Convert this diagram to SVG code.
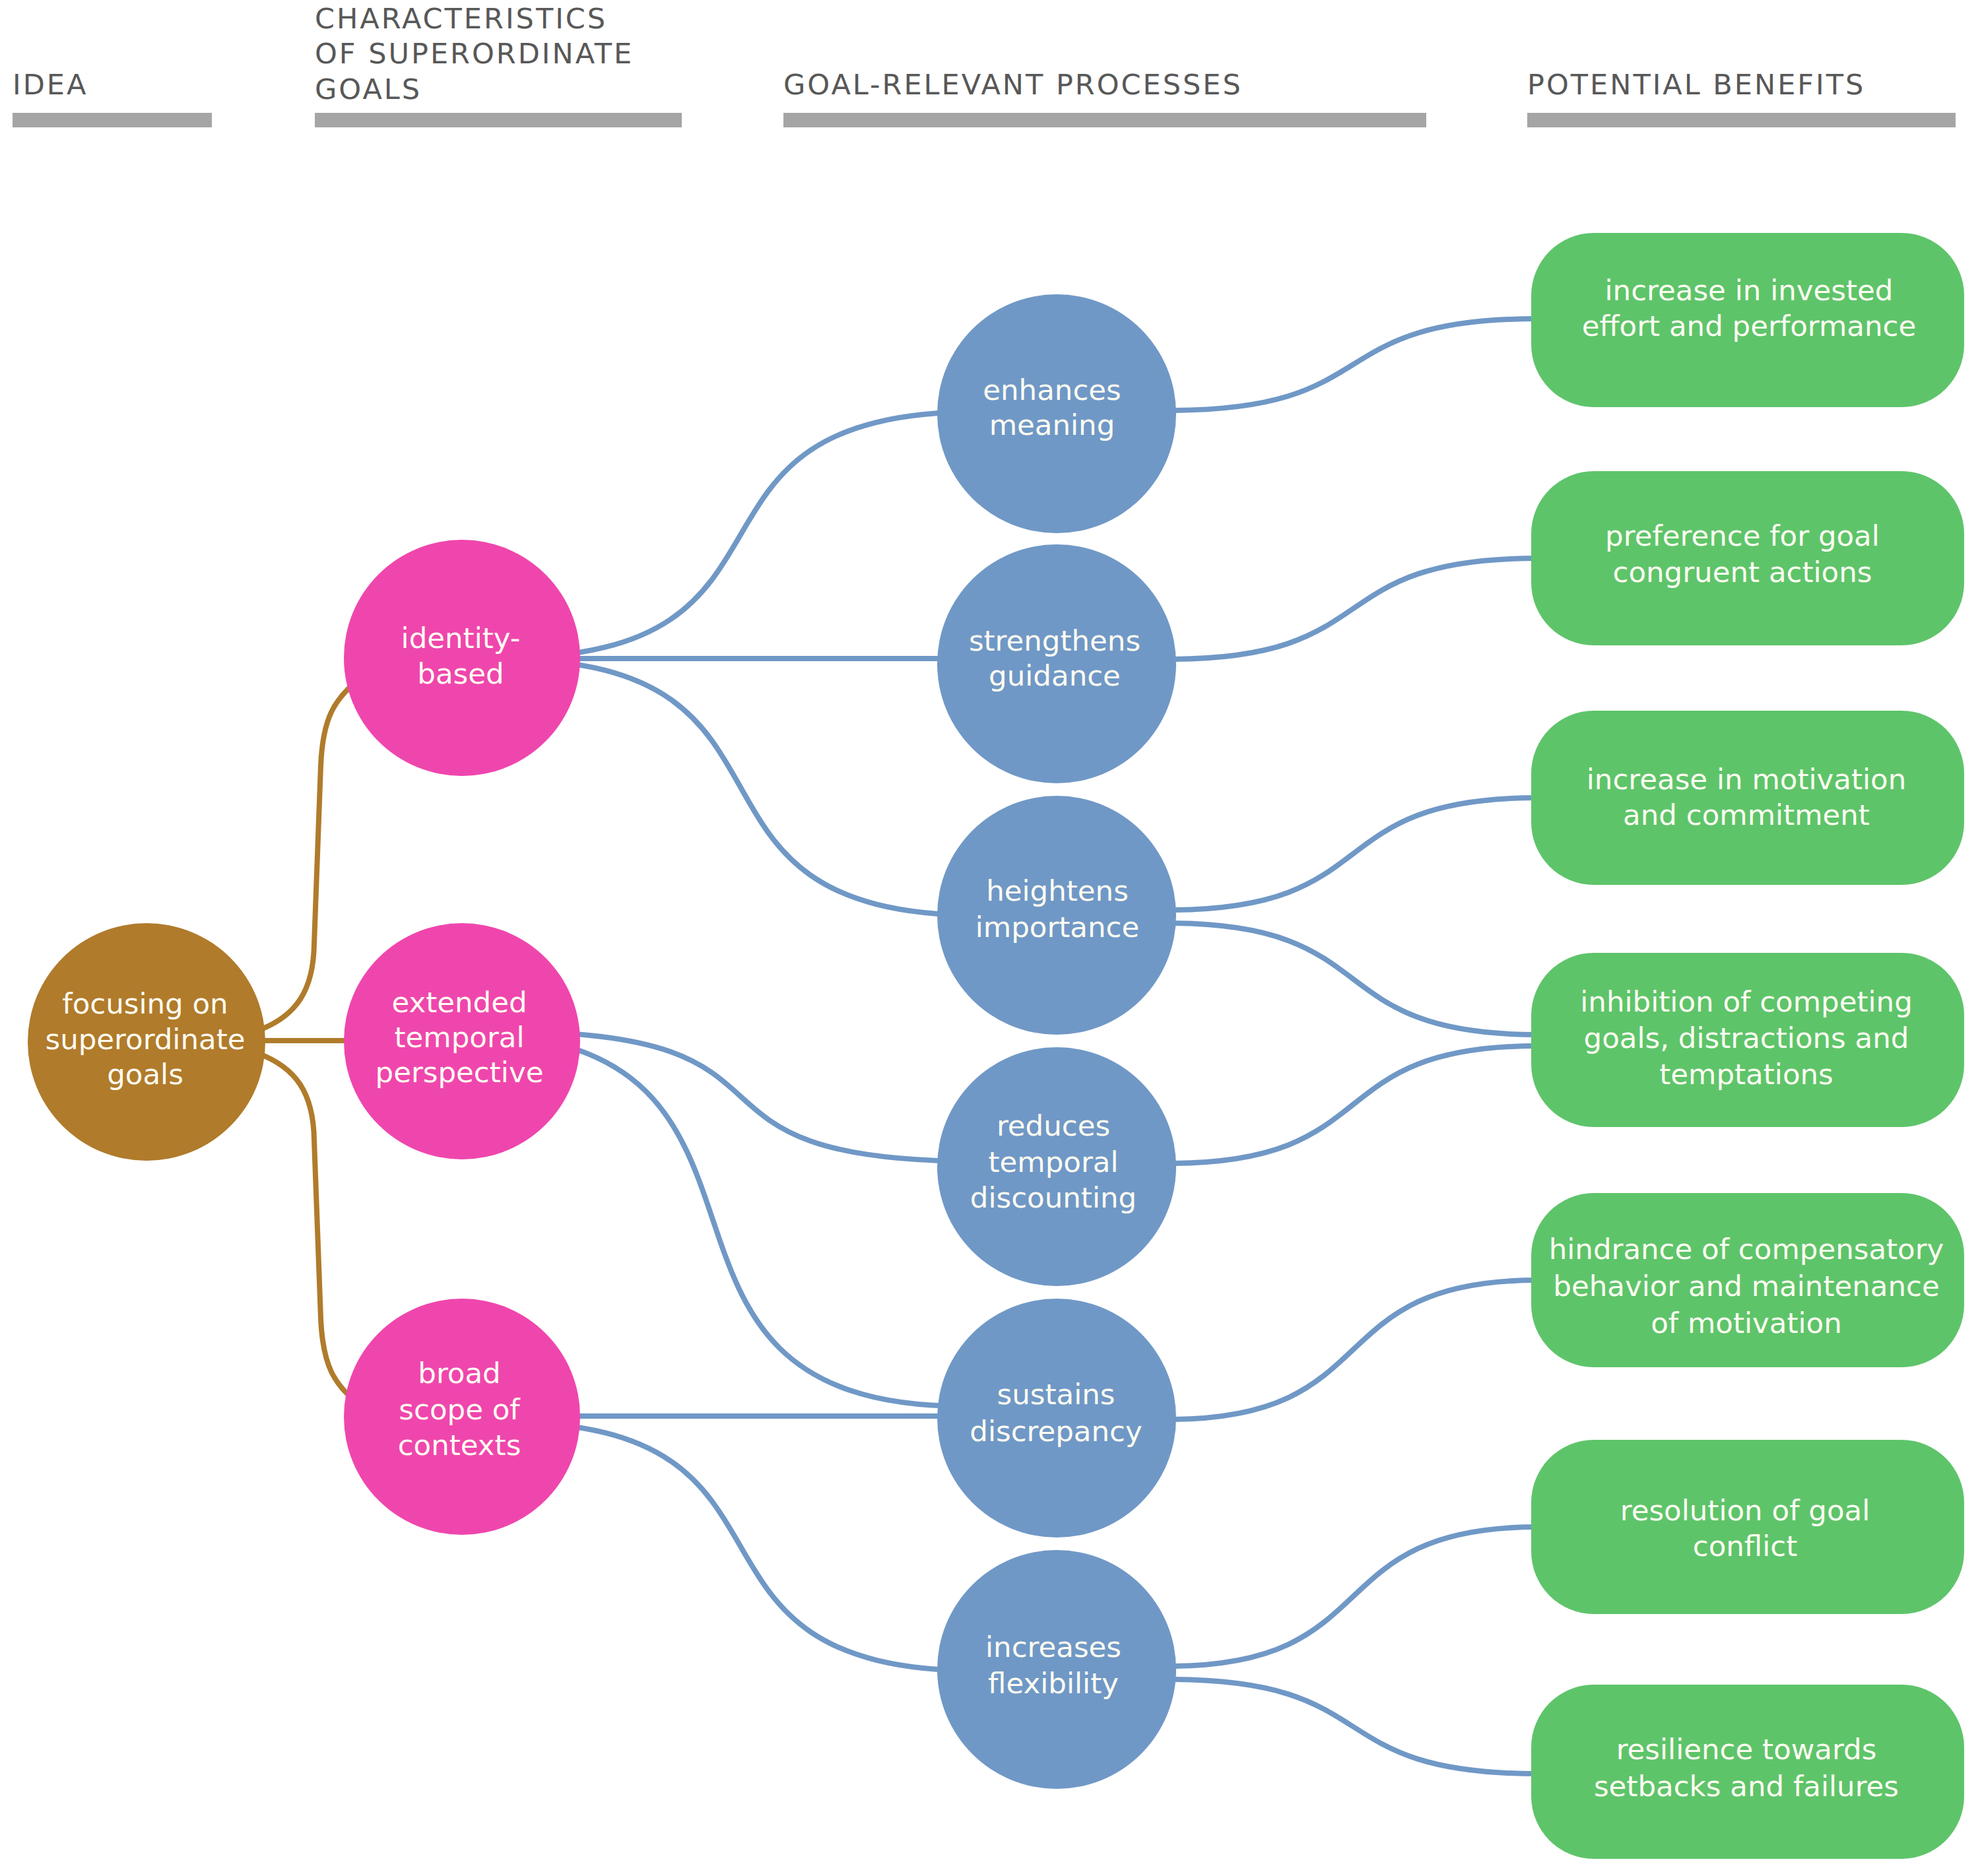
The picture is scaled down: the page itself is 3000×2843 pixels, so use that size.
<svg xmlns="http://www.w3.org/2000/svg" width="3000" height="2843" viewBox="0 0 3000 2843">
<style>
.hdr{font-family:"DejaVu Sans","Liberation Sans",sans-serif;font-size:43px;fill:#585858;letter-spacing:3px}
.bar{fill:#a5a5a5}
.lbl{font-family:"DejaVu Sans","Liberation Sans",sans-serif;font-size:43.5px;fill:#fffdf2;text-anchor:middle}
.cb{fill:none;stroke:#b07b2b;stroke-width:8;stroke-linecap:round}
.cl{fill:none;stroke:#7098c6;stroke-width:8}
.brown{fill:#b07b2b}
.pink{fill:#ef46ad}
.blue{fill:#7098c6}
.green{fill:#5ec46a}
</style>
<rect width="3000" height="2843" fill="#ffffff"/>
<g id="headers">
<text class="hdr" x="19" y="143">IDEA</text>
<rect class="bar" x="19" y="171" width="302" height="22"/>
<text class="hdr" x="477" y="43">CHARACTERISTICS</text>
<text class="hdr" x="477" y="96">OF SUPERORDINATE</text>
<text class="hdr" x="477" y="150">GOALS</text>
<rect class="bar" x="477" y="171" width="556" height="22"/>
<text class="hdr" x="1187" y="143">GOAL-RELEVANT PROCESSES</text>
<rect class="bar" x="1187" y="171" width="974" height="22"/>
<text class="hdr" x="2314" y="143">POTENTIAL BENEFITS</text>
<rect class="bar" x="2314" y="171" width="649" height="22"/>
</g>
<g id="connectors">
<path class="cb" d="M390,1562 C450,1540 475,1500 476,1430 L486,1160 C489,1090 505,1058 550,1025"/>
<path class="cb" d="M390,1577 H540"/>
<path class="cb" d="M390,1596 C450,1618 475,1658 476,1728 L486,1998 C489,2068 505,2100 550,2133"/>
<path class="cl" d="M761,997 C1266,997 978,624 1483,624"/>
<path class="cl" d="M870,998 H1440"/>
<path class="cl" d="M761,999 C1266,999 978,1387 1483,1387"/>
<path class="cl" d="M761,1563 C1266,1563 978,1760 1483,1760"/>
<path class="cl" d="M700,1566 C1270,1566 890,2131 1460,2131"/>
<path class="cl" d="M870,2146 H1440"/>
<path class="cl" d="M761,2155 C1266,2155 978,2532 1483,2532"/>
<path class="cl" d="M1770,622 C2106,622 1994,483 2330,483"/>
<path class="cl" d="M1770,999 C2106,999 1994,846 2330,846"/>
<path class="cl" d="M1770,1379 C2106,1379 1994,1209 2330,1209"/>
<path class="cl" d="M1770,1399 C2106,1399 1994,1568 2330,1568"/>
<path class="cl" d="M1770,1763 C2106,1763 1994,1585 2330,1585"/>
<path class="cl" d="M1770,2151 C2106,2151 1994,1940 2330,1940"/>
<path class="cl" d="M1770,2525 C2106,2525 1994,2314 2330,2314"/>
<path class="cl" d="M1770,2545 C2106,2545 1994,2688 2330,2688"/>
</g>
<g id="idea">
<circle class="brown" cx="222" cy="1579" r="180"/>
<text class="lbl" x="220" y="1536">focusing on</text>
<text class="lbl" x="220" y="1590">superordinate</text>
<text class="lbl" x="220" y="1643">goals</text>
</g>
<g id="identity-based">
<circle class="pink" cx="700" cy="997" r="179"/>
<text class="lbl" x="698" y="982">identity-</text>
<text class="lbl" x="698" y="1036">based</text>
</g>
<g id="extended-temporal-perspective">
<circle class="pink" cx="700" cy="1578" r="179"/>
<text class="lbl" x="696" y="1534">extended</text>
<text class="lbl" x="696" y="1587">temporal</text>
<text class="lbl" x="696" y="1640">perspective</text>
</g>
<g id="broad-scope">
<circle class="pink" cx="700" cy="2147" r="179"/>
<text class="lbl" x="696" y="2096">broad</text>
<text class="lbl" x="696" y="2151">scope of</text>
<text class="lbl" x="696" y="2205">contexts</text>
</g>
<g id="enhances-meaning">
<circle class="blue" cx="1601" cy="627" r="181"/>
<text class="lbl" x="1594" y="606">enhances</text>
<text class="lbl" x="1594" y="659">meaning</text>
</g>
<g id="strengthens-guidance">
<circle class="blue" cx="1601" cy="1006" r="181"/>
<text class="lbl" x="1598" y="986">strengthens</text>
<text class="lbl" x="1598" y="1039">guidance</text>
</g>
<g id="heightens-importance">
<circle class="blue" cx="1601" cy="1387" r="181"/>
<text class="lbl" x="1602" y="1365">heightens</text>
<text class="lbl" x="1602" y="1420">importance</text>
</g>
<g id="reduces-temporal-discounting">
<circle class="blue" cx="1601" cy="1768" r="181"/>
<text class="lbl" x="1596" y="1721">reduces</text>
<text class="lbl" x="1596" y="1776">temporal</text>
<text class="lbl" x="1596" y="1830">discounting</text>
</g>
<g id="sustains-discrepancy">
<circle class="blue" cx="1601" cy="2149" r="181"/>
<text class="lbl" x="1600" y="2128">sustains</text>
<text class="lbl" x="1600" y="2184">discrepancy</text>
</g>
<g id="increases-flexibility">
<circle class="blue" cx="1601" cy="2530" r="181"/>
<text class="lbl" x="1596" y="2511">increases</text>
<text class="lbl" x="1596" y="2566">flexibility</text>
</g>
<g id="benefit-1">
<rect class="green" x="2320" y="353" width="656" height="264" rx="95" ry="95"/>
<text class="lbl" x="2650" y="455">increase in invested</text>
<text class="lbl" x="2650" y="509">effort and performance</text>
</g>
<g id="benefit-2">
<rect class="green" x="2320" y="714" width="656" height="264" rx="95" ry="95"/>
<text class="lbl" x="2640" y="827">preference for goal</text>
<text class="lbl" x="2640" y="882">congruent actions</text>
</g>
<g id="benefit-3">
<rect class="green" x="2320" y="1077" width="656" height="264" rx="95" ry="95"/>
<text class="lbl" x="2646" y="1196">increase in motivation</text>
<text class="lbl" x="2646" y="1250">and commitment</text>
</g>
<g id="benefit-4">
<rect class="green" x="2320" y="1444" width="656" height="264" rx="95" ry="95"/>
<text class="lbl" x="2646" y="1533">inhibition of competing</text>
<text class="lbl" x="2646" y="1588">goals, distractions and</text>
<text class="lbl" x="2646" y="1643">temptations</text>
</g>
<g id="benefit-5">
<rect class="green" x="2320" y="1808" width="656" height="264" rx="95" ry="95"/>
<text class="lbl" x="2646" y="1908">hindrance of compensatory</text>
<text class="lbl" x="2646" y="1964">behavior and maintenance</text>
<text class="lbl" x="2646" y="2020">of motivation</text>
</g>
<g id="benefit-6">
<rect class="green" x="2320" y="2182" width="656" height="264" rx="95" ry="95"/>
<text class="lbl" x="2644" y="2304">resolution of goal</text>
<text class="lbl" x="2644" y="2358">conflict</text>
</g>
<g id="benefit-7">
<rect class="green" x="2320" y="2553" width="656" height="264" rx="95" ry="95"/>
<text class="lbl" x="2646" y="2666">resilience towards</text>
<text class="lbl" x="2646" y="2722">setbacks and failures</text>
</g>
</svg>
